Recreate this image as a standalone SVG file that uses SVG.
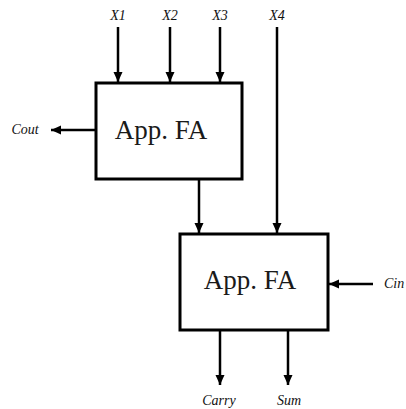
<svg xmlns="http://www.w3.org/2000/svg" width="406" height="409" viewBox="0 0 406 409">
<style>
.box{fill:#fff;stroke:#000;stroke-width:3}
.ln{stroke:#000;stroke-width:2.5;fill:none}
.big{font-family:"Liberation Serif","DejaVu Serif",serif;font-size:27px;fill:#1a1a1a;text-anchor:middle}
.lbl{font-family:"Liberation Serif","DejaVu Serif",serif;font-style:italic;font-size:14px;fill:#111;text-anchor:middle}
</style>
<defs>
<marker id="ah" markerUnits="userSpaceOnUse" markerWidth="12" markerHeight="10" refX="10" refY="5" orient="auto">
<path d="M0,0.5 L10,5 L0,9.5 Z" fill="#000"/>
</marker>
</defs>
<rect width="406" height="409" fill="#fff"/>
<g id="connectors">
<line class="ln" x1="118" y1="27" x2="118" y2="82" marker-end="url(#ah)"/>
<line class="ln" x1="170" y1="27" x2="170" y2="82" marker-end="url(#ah)"/>
<line class="ln" x1="220" y1="27" x2="220" y2="82" marker-end="url(#ah)"/>
<line class="ln" x1="277" y1="27" x2="277" y2="233" marker-end="url(#ah)"/>
<line class="ln" x1="96" y1="130" x2="51" y2="130" marker-end="url(#ah)"/>
<line class="ln" x1="199" y1="179" x2="199" y2="233" marker-end="url(#ah)"/>
<line class="ln" x1="373" y1="284" x2="329" y2="284" marker-end="url(#ah)"/>
<line class="ln" x1="220" y1="330" x2="220" y2="385" marker-end="url(#ah)"/>
<line class="ln" x1="288" y1="330" x2="288" y2="385" marker-end="url(#ah)"/>
</g>
<g id="fa1">
<rect class="box" x="96" y="83" width="146" height="96"/>
<text class="big" x="161" y="139">App. FA</text>
</g>
<g id="fa2">
<rect class="box" x="180" y="234" width="148" height="96"/>
<text class="big" x="250" y="289">App. FA</text>
</g>
<g id="labels">
<text class="lbl" x="118" y="20">X1</text>
<text class="lbl" x="170" y="20">X2</text>
<text class="lbl" x="220" y="20">X3</text>
<text class="lbl" x="277" y="20">X4</text>
<text class="lbl" x="25" y="134">Cout</text>
<text class="lbl" x="384" y="288" style="text-anchor:start">Cin</text>
<text class="lbl" x="219" y="405">Carry</text>
<text class="lbl" x="289" y="405">Sum</text>
</g>
</svg>
